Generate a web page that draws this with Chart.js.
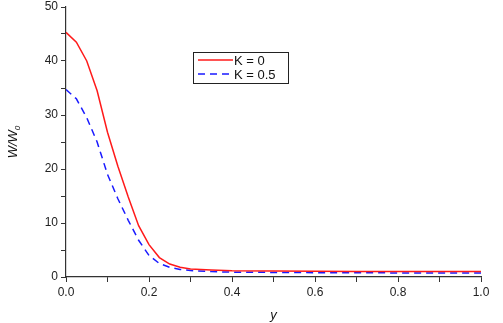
<!DOCTYPE html>
<html>
<head>
  <script src="https://cdn.jsdelivr.net/npm/chart.js"></script>
  <style>
    html, body { margin: 0; padding: 0; background: #fff; }
    #wrap { width: 503px; height: 323px; position: relative; }
  </style>
</head>
<body>
  <div id="wrap"><canvas id="chart"></canvas></div>
  <script>
    // y positions and the two velocity profiles W/W0
    const yPos = [0, 0.025, 0.05, 0.075, 0.1, 0.125, 0.15, 0.175, 0.2, 0.225, 0.25, 0.275, 0.3, 0.35, 0.4, 0.5, 0.6, 0.7, 0.8, 0.9, 1.0]
    const k0 = [45.3, 43.5, 40, 34.5, 26.8, 20.5, 14.8, 9.5, 6.0, 3.6, 2.4, 1.8, 1.5, 1.3, 1.15, 1.1, 1.05, 1.0, 1.0, 1.0, 1.0]
    const k05 = [34.7, 33.0, 29.5, 25, 19, 14.5, 10.5, 6.8, 4.0, 2.5, 1.8, 1.4, 1.2, 1.0, 0.9, 0.85, 0.8, 0.8, 0.75, 0.75, 0.75]
    const seriesLabels = ['K = 0', 'K = 0.5']
    const xTicks = [0, 0.2, 0.4, 0.6, 0.8, 1.0]
    const yTicks = [0, 10, 20, 30, 40, 50]

    const FONT = 'Liberation Sans, Arial, sans-serif'
    const AXIS = '#333'

    const toPts = (vals) => vals.map((v, i) => ({ x: yPos[i], y: v }))

    // legend box inside the plot + rotated y title with subscript
    const extras = {
      id: 'extras',
      afterDraw(chart) {
        const ctx = chart.ctx
        const ds = chart.data.datasets
        ctx.save()
        // legend
        const bx = 193, by = 52, bw = 95, bh = 31
        ctx.strokeStyle = '#222'
        ctx.lineWidth = 1
        ctx.strokeRect(bx + 0.5, by + 0.5, bw, bh)
        ds.forEach((d, i) => {
          const ly = by + 8 + i * 14
          ctx.beginPath()
          ctx.strokeStyle = d.borderColor
          ctx.lineWidth = d.borderWidth
          ctx.setLineDash(d.borderDash || [])
          ctx.moveTo(bx + 5, ly)
          ctx.lineTo(bx + 40, ly)
          ctx.stroke()
          ctx.setLineDash([])
          ctx.fillStyle = '#111'
          ctx.font = '13px ' + FONT
          ctx.textBaseline = 'middle'
          ctx.textAlign = 'left'
          ctx.fillText(d.label, bx + 41, ly + 1)
        })
        // y title
        ctx.translate(13, 142)
        ctx.rotate(-Math.PI / 2)
        ctx.fillStyle = '#111'
        ctx.textBaseline = 'middle'
        ctx.textAlign = 'left'
        ctx.font = 'italic 13px ' + FONT
        const main = 'W/W'
        const w = ctx.measureText(main).width
        ctx.font = 'italic 8px ' + FONT
        const ws = ctx.measureText('0').width
        const x0 = -(w + ws) / 2
        ctx.font = 'italic 13px ' + FONT
        ctx.fillText(main, x0, 0)
        ctx.font = 'italic 8px ' + FONT
        ctx.fillText('0', x0 + w, 5)
        ctx.restore()
      }
    }

    new Chart(document.getElementById('chart'), {
      type: 'line',
      data: {
        datasets: [
          {
            label: seriesLabels[0],
            data: toPts(k0),
            borderColor: '#ff1a1a',
            borderWidth: 1.5,
            pointRadius: 0,
            tension: 0,
            fill: false
          },
          {
            label: seriesLabels[1],
            data: toPts(k05),
            borderColor: '#1a1aff',
            borderWidth: 1.5,
            borderDash: [7, 5],
            pointRadius: 0,
            tension: 0,
            fill: false
          }
        ]
      },
      options: {
        responsive: true,
        maintainAspectRatio: false,
        animation: false,
        layout: { padding: { left: 0, right: 22, top: 7, bottom: 0 } },
        plugins: {
          legend: { display: false },
          tooltip: { enabled: false }
        },
        scales: {
          x: {
            type: 'linear',
            min: 0,
            max: 1,
            afterFit: (s) => { s.height = 46; s.paddingLeft = 0; s.paddingRight = 0 },
            afterBuildTicks: (s) => {
              const t = []
              for (let i = 0; i <= 10; i++) t.push({ value: i / 10 })
              s.ticks = t
            },
            border: { display: true, color: AXIS, width: 1.2 },
            grid: { drawOnChartArea: false, color: AXIS, tickLength: 5, tickColor: AXIS },
            ticks: {
              autoSkip: false,
              maxRotation: 0,
              padding: 3,
              color: '#222',
              font: { family: FONT, size: 12 },
              callback: (v) => {
                const hit = xTicks.find(t => Math.abs(t - v) < 1e-6)
                return hit === undefined ? '' : hit.toFixed(1)
              }
            },
            title: {
              display: true,
              text: 'y',
              color: '#111',
              font: { family: FONT, size: 13, style: 'italic' },
              padding: { top: 4, bottom: 0 }
            }
          },
          y: {
            min: 0,
            max: 50,
            afterFit: (s) => { s.width = 66; s.paddingTop = 0; s.paddingBottom = 0 },
            afterBuildTicks: (s) => {
              const t = []
              for (let v = 0; v <= 50; v += 5) t.push({ value: v })
              s.ticks = t
            },
            border: { display: true, color: AXIS, width: 1.2 },
            grid: { drawOnChartArea: false, color: AXIS, tickLength: 5, tickColor: AXIS },
            ticks: {
              autoSkip: false,
              padding: 3,
              color: '#222',
              font: { family: FONT, size: 12 },
              callback: (v) => yTicks.includes(v) ? String(v) : ''
            }
          }
        }
      },
      plugins: [extras]
    })
  </script>
</body>
</html>
